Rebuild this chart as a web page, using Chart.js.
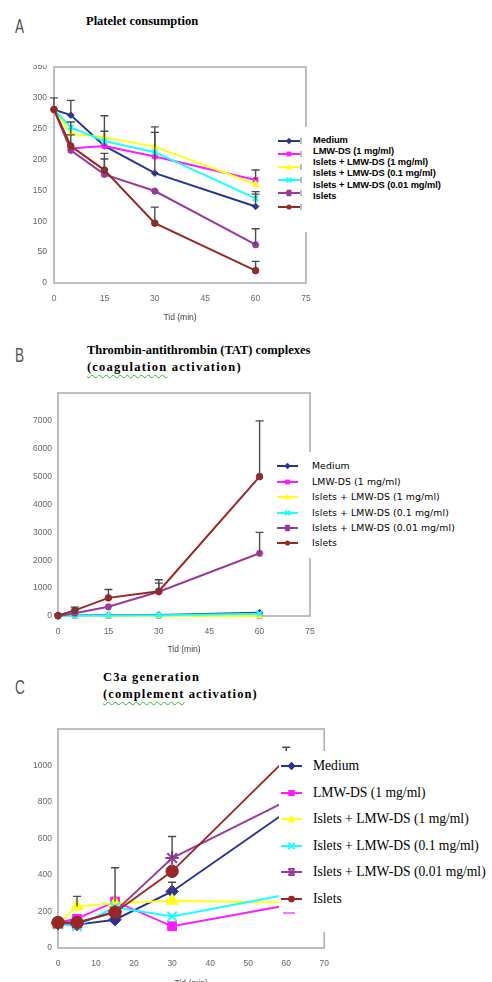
<!DOCTYPE html>
<html><head><meta charset="utf-8">
<script src="https://cdn.jsdelivr.net/npm/chart.js@4.4.1/dist/chart.umd.min.js"></script>
<style>
html,body{margin:0;padding:0;background:#fff;width:492px;height:982px;overflow:hidden;position:relative;}
canvas{position:absolute;left:0;}
.t{position:absolute;white-space:nowrap;font-family:"Liberation Serif","Times New Roman",serif;color:#000;}
.lg{position:absolute;background:#fff;z-index:5;}
.lt{position:absolute;white-space:nowrap;color:#000;}
.cover{position:absolute;background:#fff;z-index:4;}
.panel{position:absolute;left:15px;font-family:"Liberation Sans",sans-serif;font-size:20px;line-height:20px;color:#555;transform-origin:left center;transform:scaleX(0.68);}
.wavy{text-decoration:underline wavy #2db52d;text-decoration-thickness:1px;text-underline-offset:3px;}
</style></head><body>
<div class="panel" style="top:16px">A</div>
<div class="panel" style="top:345px">B</div>
<div class="panel" style="top:677px">C</div>
<div class="t" style="left:86px;top:13px;font-size:12.5px;line-height:16px;font-weight:bold;">Platelet consumption</div>
<div class="t" style="left:87px;top:342px;font-size:12.5px;line-height:17px;font-weight:bold;">Thrombin-antithrombin (TAT) complexes<br><span style="letter-spacing:1.2px"><span class="wavy">(coagulation</span> activation)</span></div>
<div class="t" style="left:103px;top:669px;font-size:12.5px;line-height:17px;font-weight:bold;letter-spacing:1.1px;">C3a generation<br><span class="wavy">(complement</span> activation)</div>
<canvas id="cA" width="340" height="280" style="top:50px"></canvas>
<canvas id="cB" width="340" height="300" style="top:360px"></canvas>
<canvas id="cC" width="340" height="300" style="top:700px"></canvas>
<div class="cover" style="left:20px;top:55px;width:32px;height:10px"></div>
<div class="cover" style="left:20px;top:715px;width:36px;height:16px"></div>
<script>
// ---------- data ----------
const seriesNames = ["Medium", "LMW-DS (1 mg/ml)", "Islets + LMW-DS (1 mg/ml)", "Islets + LMW-DS (0.1 mg/ml)", "Islets + LMW-DS (0.01 mg/ml)", "Islets"];
const timesMin = [0, 5, 15, 30, 60];

// A: Platelet consumption
const plateletMedium = [281, 272, 222, 178, 124];
const plateletLmw = [281, 218, 222, 205, 167];
const plateletIsletsLmw1 = [281, 242, 236, 221, 160];
const plateletIsletsLmw01 = [281, 252, 230, 212, 137];
const plateletIsletsLmw001 = [281, 215, 176, 149, 62];
const plateletIslets = [281, 222, 183, 97, 20];
const plateletMediumErr = [300, 296, 271, 253, 148];
const plateletLmwErr = [null, null, null, null, 183];
const plateletIsletsLmw1Err = [null, 261, 246, 244, null];
const plateletIsletsLmw01Err = [null, null, null, null, 144];
const plateletIsletsLmw001Err = [null, null, 201, null, 88];
const plateletIsletsErr = [null, 240, 210, 123, 35];

// B: TAT complexes
const tatMedium = [0, 20, 30, 40, 120];
const tatLmw = [0, 0, 0, 0, 0];
const tatIsletsLmw1 = [0, 0, 0, 0, 0];
const tatIsletsLmw01 = [0, 10, 20, 30, 80];
const tatIsletsLmw001 = [0, 100, 330, 870, 2250];
const tatIslets = [20, 200, 650, 890, 5000];
const tatIsletsErr = [60, 320, 950, 1300, 7000];
const tatIsletsLmw001Err = [null, 200, null, 1180, 3000];

// C: C3a generation
const c3aMedium = [140, 128, 155, 310, 745];
const c3aLmw = [140, 160, 255, 119, 233];
const c3aIsletsLmw1 = [130, 228, 245, 259, 249];
const c3aIsletsLmw01 = [130, 119, 223, 173, 292];
const c3aIsletsLmw001 = [135, 135, 200, 493, 805];
const c3aIslets = [140, 140, 195, 420, 1036];
const c3aMediumErr = [null, null, null, 360, null];
const c3aLmwErr = [null, null, 440, null, null];
const c3aIsletsLmw1Err = [null, 283, null, null, null];
const c3aIsletsLmw001Err = [null, null, null, 611, null];
const c3aIsletsErr = [null, null, null, null, 1100];

// ---------- styles ----------
const seriesColors = ['#2b3392', '#ff1aff', '#ffff1a', '#1affff', '#983c98', '#982828'];
const seriesStyles = ['rectRot', 'rect', 'triangle', 'crossRot', 'star', 'circle'];
const tickFont = {family: 'Liberation Sans', size: 8.5};

const framePlugin = {
  id: 'frame',
  beforeDatasetsDraw(chart) {
    const {ctx, chartArea: a} = chart;
    ctx.save();
    ctx.strokeStyle = '#b0b0b0';
    ctx.lineWidth = 1.6;
    ctx.strokeRect(a.left, a.top, a.right - a.left, a.bottom - a.top);
    ctx.restore();
  }
};
const errorBarPlugin = {
  id: 'errbars',
  afterDatasetsDraw(chart) {
    const {ctx} = chart;
    const x = chart.scales.x, y = chart.scales.y;
    ctx.save();
    ctx.strokeStyle = '#4a4a4a';
    ctx.lineWidth = 1.4;
    chart.data.datasets.forEach(ds => {
      if (!ds.errTop) return;
      ds.data.forEach((p, i) => {
        const top = ds.errTop[i];
        if (top == null) return;
        const px = x.getPixelForValue(p.x);
        const py0 = y.getPixelForValue(p.y);
        const py1 = y.getPixelForValue(top);
        ctx.beginPath();
        ctx.moveTo(px, py0); ctx.lineTo(px, py1);
        ctx.moveTo(px - 4, py1); ctx.lineTo(px + 4, py1);
        ctx.stroke();
      });
    });
    ctx.restore();
  }
};

function buildDatasets(values, errs, radius, lw) {
  return values.map((vals, i) => {
    const st = seriesStyles[i];
    const cross = st === 'crossRot' || st === 'star';
    return {
      label: seriesNames[i],
      data: vals.map((v, j) => ({x: timesMin[j], y: v})),
      errTop: errs[i],
      borderColor: seriesColors[i],
      backgroundColor: seriesColors[i],
      pointBackgroundColor: seriesColors[i],
      pointBorderColor: seriesColors[i],
      pointStyle: st,
      pointRadius: st === 'triangle' ? radius * 1.15 : (cross ? radius * 1.1 : radius),
      pointBorderWidth: cross ? 2 : 1,
      borderWidth: lw,
      tension: 0,
      clip: false,
      order: values.length - 1 - i
    };
  });
}

function makeChart(id, c) {
  return new Chart(document.getElementById(id), {
    type: 'line',
    data: {datasets: buildDatasets(c.values, c.errs, c.radius, c.lw)},
    options: {
      responsive: false,
      animation: false,
      devicePixelRatio: 1,
      layout: {padding: {top: c.padTop, right: c.padRight, left: 0, bottom: 0}},
      plugins: {legend: {display: false}, tooltip: {enabled: false}},
      scales: {
        x: {
          type: 'linear', min: 0, max: c.xMax,
          grid: {display: false, drawTicks: false, tickLength: 0},
          border: {display: false},
          ticks: {stepSize: c.xStep, font: tickFont, color: '#666', padding: c.xTickPad, maxRotation: 0},
          title: {display: true, text: 'Tid (min)', font: {family: 'Liberation Sans', size: 8.5}, color: '#444', padding: {top: 0, bottom: c.titlePad}},
          afterFit(s) { s.height = c.axisH; }
        },
        y: {
          type: 'linear', min: 0, max: c.yMax,
          grid: {display: false, drawTicks: false, tickLength: 0},
          border: {display: false},
          ticks: {stepSize: c.yStep, font: tickFont, color: '#666', padding: c.yTickPad,
                  callback: v => (c.hideTop && v === c.yMax ? '' : v)},
          afterFit(s) { s.width = c.plotLeft; }
        }
      }
    },
    plugins: [framePlugin, errorBarPlugin]
  });
}

makeChart('cA', {
  values: [plateletMedium, plateletLmw, plateletIsletsLmw1, plateletIsletsLmw01, plateletIsletsLmw001, plateletIslets],
  errs: [plateletMediumErr, plateletLmwErr, plateletIsletsLmw1Err, plateletIsletsLmw01Err, plateletIsletsLmw001Err, plateletIsletsErr],
  radius: 3.3, lw: 2, xMax: 75, xStep: 15, yMax: 350, yStep: 50, hideTop: false,
  padTop: 17, padRight: 34, plotLeft: 54, axisH: 47, xTickPad: 11, yTickPad: 7, titlePad: 7
});
makeChart('cB', {
  values: [tatMedium, tatLmw, tatIsletsLmw1, tatIsletsLmw01, tatIsletsLmw001, tatIslets],
  errs: [null, null, null, null, tatIsletsLmw001Err, tatIsletsErr],
  radius: 3.3, lw: 2, xMax: 75, xStep: 15, yMax: 8000, yStep: 1000, hideTop: true,
  padTop: 33, padRight: 30, plotLeft: 58, axisH: 44, xTickPad: 11, yTickPad: 6, titlePad: 5
});
makeChart('cC', {
  values: [c3aMedium, c3aLmw, c3aIsletsLmw1, c3aIsletsLmw01, c3aIsletsLmw001, c3aIslets],
  errs: [c3aMediumErr, c3aLmwErr, c3aIsletsLmw1Err, null, c3aIsletsLmw001Err, c3aIsletsErr],
  radius: 6.2, lw: 1.9, xMax: 70, xStep: 10, yMax: 1200, yStep: 200, hideTop: false,
  padTop: 29, padRight: 11, plotLeft: 58, axisH: 52, xTickPad: 11, yTickPad: 6, titlePad: 11
});

// ---------- HTML legends ----------
function markerSvg(style, cx, cy, r, col) {
  switch (style) {
    case 'rectRot': return `<polygon points="${cx},${cy - r} ${cx + r},${cy} ${cx},${cy + r} ${cx - r},${cy}" fill="${col}"/>`;
    case 'rect': { const h = r * 0.75; return `<rect x="${cx - h}" y="${cy - h}" width="${2 * h}" height="${2 * h}" fill="${col}"/>`; }
    case 'triangle': return `<polygon points="${cx},${cy - r} ${cx + r},${cy + r * 0.75} ${cx - r},${cy + r * 0.75}" fill="${col}"/>`;
    case 'crossRot': { const h = r * 0.75; return `<path d="M${cx - h} ${cy - h}L${cx + h} ${cy + h}M${cx + h} ${cy - h}L${cx - h} ${cy + h}" stroke="${col}" stroke-width="2"/>`; }
    case 'star': { const h = r * 0.75; return `<path d="M${cx - h} ${cy - h}L${cx + h} ${cy + h}M${cx + h} ${cy - h}L${cx - h} ${cy + h}M${cx - h} ${cy - h}L${cx + h} ${cy - h}M${cx - h} ${cy + h}L${cx + h} ${cy + h}" stroke="${col}" stroke-width="1.6"/>`; }
    default: return `<circle cx="${cx}" cy="${cy}" r="${r * 0.8}" fill="${col}"/>`;
  }
}
function buildLegend(L) {
  const box = document.createElement('div');
  box.className = 'lg';
  Object.assign(box.style, {left: L.left + 'px', top: L.top + 'px', width: L.width + 'px', height: L.height + 'px'});
  seriesNames.forEach((name, i) => {
    const iy = L.iconRows[i] - L.top;
    const svgH = 14;
    const tick = L.endTick ? `<line x1="${L.iconW + 1}" y1="${svgH / 2 - 3}" x2="${L.iconW + 1}" y2="${svgH / 2 + 3}" stroke="#777" stroke-width="1"/>` : '';
    const svg = `<svg width="${L.iconW + 2}" height="${svgH}" style="position:absolute;left:${L.iconX - L.left}px;top:${iy - svgH / 2}px;overflow:visible">` +
      `<line x1="0" y1="${svgH / 2}" x2="${L.iconW}" y2="${svgH / 2}" stroke="${seriesColors[i]}" stroke-width="2"/>` +
      markerSvg(seriesStyles[i], L.iconW / 2, svgH / 2, L.mr, seriesColors[i]) + tick + `</svg>`;
    box.insertAdjacentHTML('beforeend', svg);
    const t = document.createElement('div');
    t.className = 'lt';
    t.textContent = name;
    Object.assign(t.style, {left: (L.textX - L.left) + 'px', top: (L.textRows[i] - L.top - L.lh / 2) + 'px',
      lineHeight: L.lh + 'px', fontFamily: L.font, fontSize: L.size + 'px', fontWeight: L.weight, letterSpacing: L.ls + 'px'});
    box.appendChild(t);
  });
  if (L.extra) box.insertAdjacentHTML('beforeend', L.extra);
  document.body.appendChild(box);
}
buildLegend({left: 276, top: 127, width: 216, height: 105, iconX: 278, iconW: 22, mr: 3.2, endTick: true,
  iconRows: [141, 154, 167, 180, 193, 207], textX: 313, textRows: [140, 151, 162.5, 173.5, 185, 196.5],
  font: '"Liberation Sans", Arial, sans-serif', size: 9.3, weight: 'bold', ls: -0.05, lh: 11});
buildLegend({left: 274, top: 452, width: 218, height: 106, iconX: 277, iconW: 21, mr: 3.2, endTick: false,
  iconRows: [466, 482, 497, 513, 528, 543], textX: 312, textRows: [466, 482, 497, 513, 528, 543],
  font: '"DejaVu Sans", Verdana, sans-serif', size: 9.3, weight: 'normal', ls: 0.1, lh: 12});
buildLegend({left: 279, top: 751, width: 213, height: 181, iconX: 281, iconW: 21, mr: 4.2, endTick: false,
  iconRows: [766, 793, 819, 846, 872, 899], textX: 313, textRows: [766, 793, 819, 846, 872, 899],
  font: '"Liberation Serif", "Times New Roman", serif', size: 13.6, weight: 'normal', ls: 0, lh: 16,
  extra: '<div style="position:absolute;left:4px;top:161px;width:12px;height:2px;background:#ff1aff;opacity:0.6"></div>'});
</script>
</body></html>
